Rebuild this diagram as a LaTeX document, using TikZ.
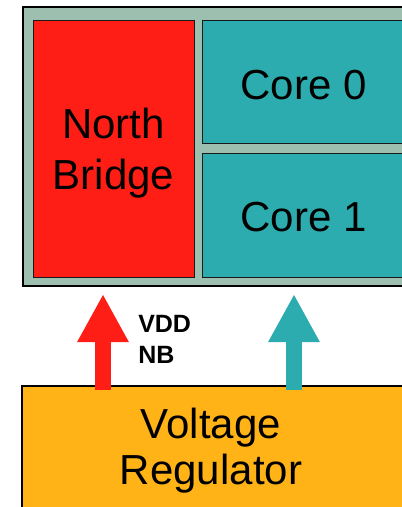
\documentclass[tikz,border=0pt]{standalone}
\usepackage{fontspec}
\setmainfont{Liberation Sans}
\usetikzlibrary{arrows.meta}

\definecolor{chipgray}{HTML}{9DBFB0}
\definecolor{nbred}{HTML}{FF1E16}
\definecolor{coreteal}{HTML}{2CACAE}
\definecolor{vrorange}{HTML}{FFB316}

\tikzset{
    edge/.style={draw=black!90, line width=0.75pt},
    biglabel/.style={anchor=base, align=center, inner sep=0pt,
        font=\fontsize{31.5}{38.25}\selectfont},
    rail/.style={line width=11.8pt, -{Triangle[width=36pt, length=36pt]}},
}

\begin{document}
\begin{tikzpicture}[x=0.75pt, y=-0.75pt]
    % Page area (pixel grid, y grows downwards)
    \useasboundingbox (0,0) rectangle (402,507);

    % Processor package, runs off the right edge
    \fill[chipgray] (23,7) rectangle (402,286);
    \draw[line width=1.5pt] (402,7) -- (23,7) -- (23,286) -- (402,286);

    % North bridge
    \filldraw[edge, fill=nbred] (33,20) rectangle (194,277);
    \node[biglabel] (nb) at (113.5,189) {North\\Bridge};

    % The two cores, also cut by the right edge
    \fill[coreteal] (202,20) rectangle (402,143);
    \fill[coreteal] (202,153) rectangle (402,277);
    \draw[edge] (402,20) -| (202,143) -- (402,143);
    \draw[edge] (402,153) -| (202,277) -- (402,277);
    \node[biglabel] (core0) at (303.5,99) {Core 0};
    \node[biglabel] (core1) at (303.5,231.7) {Core 1};

    % Voltage regulator below
    \fill[vrorange] (22,386) rectangle (402,507);
    \draw[line width=1.1pt] (22,507) -- (22,386) -- (402,386);
    \node[biglabel, font=\fontsize{31.5}{34.5}\selectfont]
        (vr) at (211,484) {Voltage\\Regulator};

    % Supply rails (tips stop just under the package)
    \coordinate (nbbase) at (103,389.5);
    \coordinate (nbfeed) at (103,294);
    \coordinate (corebase) at (294,389.5);
    \coordinate (corefeed) at (294,294);
    \draw[rail, nbred] (nbbase) -- (nbfeed);
    \draw[rail, coreteal] (corebase) -- (corefeed);
    \node[anchor=base west, align=left, inner sep=0pt,
        font=\fontsize{18.75}{23}\selectfont\bfseries]
        (vddnb) at (138,363.3) {VDD\\NB};
\end{tikzpicture}
\end{document}
